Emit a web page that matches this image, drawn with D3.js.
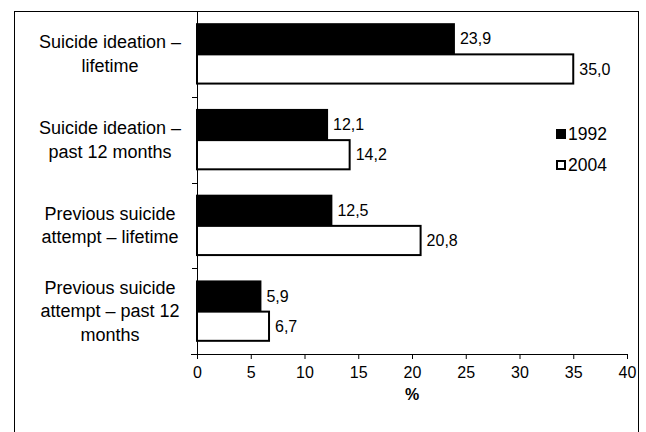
<!DOCTYPE html>
<html>
<head>
<meta charset="utf-8">
<script src="https://cdn.jsdelivr.net/npm/d3@7"></script>
<style>
  body { margin: 0; background: #fff; }
  text { font-family: "Liberation Sans", Arial, sans-serif; fill: #000; }
</style>
</head>
<body>
<div id="chart"></div>
<script>
// data
var categories = [
  ["Suicide ideation \u2013", "lifetime"],
  ["Suicide ideation \u2013", "past 12 months"],
  ["Previous suicide", "attempt \u2013 lifetime"],
  ["Previous suicide", "attempt \u2013 past 12", "months"]
];
var years = ["1992", "2004"];
var values1992 = [23.9, 12.1, 12.5, 5.9];
var values2004 = [35.0, 14.2, 20.8, 6.7];
var xTicks = [0, 5, 10, 15, 20, 25, 30, 35, 40];

var width = 646, height = 432;
var margin = {top: 11, left: 197, right: 19, bottom: 78};

var svg = d3.select("#chart")
  .append("svg")
  .attr("width", width)
  .attr("height", height);

// outer frame
svg.append("rect")
  .attr("x", 14.5).attr("y", 11.5)
  .attr("width", 624).attr("height", 440)
  .style("fill", "none")
  .style("stroke", "#000")
  .style("stroke-width", 1);

var x = d3.scaleLinear()
  .domain([0, 40])
  .range([margin.left, width - margin.right]);

var y = d3.scaleBand()
  .domain(d3.range(categories.length))
  .range([margin.top, height - margin.bottom]);

var inner = d3.scaleBand()
  .domain(years)
  .range([0, y.bandwidth()])
  .paddingOuter(0.42)
  .paddingInner(0);

var series = [
  {year: "1992", values: values1992, fill: "#000"},
  {year: "2004", values: values2004, fill: "#fff"}
];

var groups = svg.selectAll(".series")
  .data(series)
  .enter().append("g")
    .attr("class", "series");

groups.selectAll("rect")
  .data(function(s) { return s.values.map(function(v, i) { return {v: v, i: i, s: s}; }); })
  .enter().append("rect")
    .attr("x", x(0))
    .attr("y", function(d) { return y(d.i) + inner(d.s.year) + 0.5; })
    .attr("width", function(d) { return x(d.v) - x(0); })
    .attr("height", inner.bandwidth() - 1)
    .style("fill", function(d) { return d.s.fill; })
    .style("stroke", "#000")
    .style("stroke-width", 2);

groups.selectAll(".value")
  .data(function(s) { return s.values.map(function(v, i) { return {v: v, i: i, s: s}; }); })
  .enter().append("text")
    .attr("class", "value")
    .attr("x", function(d) { return x(d.v) + 6; })
    .attr("y", function(d) { return y(d.i) + inner(d.s.year) + inner.bandwidth() / 2; })
    .attr("dy", "0.35em")
    .style("font-size", "16px")
    .text(function(d) { return d.v.toFixed(1).replace(".", ","); });

// x axis
var xAxis = d3.axisBottom(x)
  .tickValues(xTicks)
  .tickSize(5)
  .tickSizeOuter(0)
  .tickPadding(8);

var gx = svg.append("g")
  .attr("transform", "translate(0," + (height - margin.bottom) + ")")
  .call(xAxis);
gx.select(".domain").attr("d", "M" + (margin.left - 6) + ",0.5H" + x(40));
gx.selectAll("text").style("font-size", "16px").style("font-family", "Liberation Sans, Arial, sans-serif");

// y axis line and category ticks
svg.append("line")
  .attr("x1", margin.left + 0.5).attr("x2", margin.left + 0.5)
  .attr("y1", margin.top).attr("y2", height - margin.bottom + 5)
  .style("stroke", "#000");

svg.selectAll(".ytick")
  .data(d3.range(1, categories.length))
  .enter().append("line")
    .attr("class", "ytick")
    .attr("x1", margin.left - 5).attr("x2", margin.left)
    .attr("y1", function(i) { return Math.round(y(i)) + 0.5; })
    .attr("y2", function(i) { return Math.round(y(i)) + 0.5; })
    .style("stroke", "#000");

// category labels
var catLabels = svg.selectAll(".cat")
  .data(categories)
  .enter().append("text")
    .attr("class", "cat")
    .attr("text-anchor", "middle")
    .style("font-size", "18px");

catLabels.each(function(lines, i) {
  var t = d3.select(this);
  var lh = 23.5;
  var cy = y(i) + y.bandwidth() / 2 - (lines.length - 1) * lh / 2;
  lines.forEach(function(l, j) {
    t.append("tspan")
      .attr("x", 110)
      .attr("y", cy + j * lh)
      .attr("dy", "0.35em")
      .text(l);
  });
});

// axis title
svg.append("text")
  .attr("x", x(20))
  .attr("y", 394)
  .attr("dy", "0.35em")
  .attr("text-anchor", "middle")
  .style("font-size", "16px")
  .style("font-weight", "bold")
  .text("%");

// legend
var legend = svg.selectAll(".legend")
  .data(series)
  .enter().append("g")
    .attr("class", "legend")
    .attr("transform", function(d, i) { return "translate(556," + (134 + i * 31) + ")"; });

legend.append("rect")
  .attr("x", 1).attr("y", -4)
  .attr("width", 8).attr("height", 8)
  .style("fill", function(d) { return d.fill; })
  .style("stroke", "#000")
  .style("stroke-width", 2);

legend.append("text")
  .attr("x", 12)
  .attr("y", 0)
  .attr("dy", "0.35em")
  .style("font-size", "17.5px")
  .text(function(d) { return d.year; });
</script>
</body>
</html>
